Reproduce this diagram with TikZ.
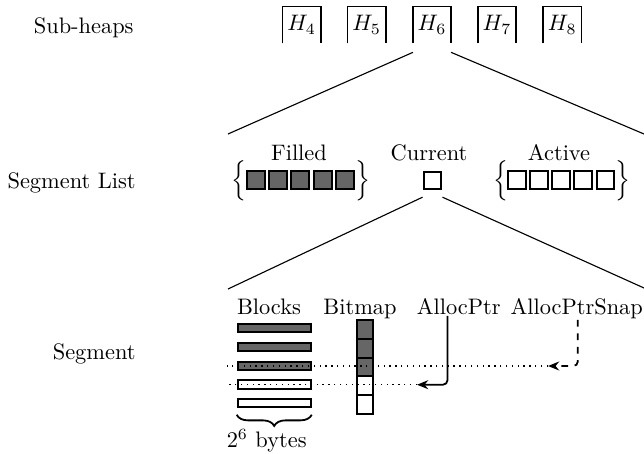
\documentclass[tikz,border=0pt]{standalone}
\usetikzlibrary{arrows.meta,decorations.pathreplacing,calc}
\begin{document}
\begin{tikzpicture}[x=0.4464pt,y=-0.4464pt,
  rowlabel/.style={anchor=east, inner sep=0pt},
  heap/.style={minimum width=16.6pt, minimum height=16pt, inner sep=0pt},
  heapline/.style={line width=0.7pt},
  segbox/.style={draw, line width=0.9pt, minimum size=8pt, inner sep=0pt},
  filledbox/.style={segbox, fill=black!60},
  bar/.style={draw, line width=0.9pt, minimum width=32.6pt, minimum height=3.6pt, inner sep=0pt},
  filledbar/.style={bar, fill=black!60},
  bitcell/.style={draw, line width=0.9pt, minimum width=7.4pt, minimum height=8.4pt, inner sep=0pt},
  filledcell/.style={bitcell, fill=black!60},
  lbl/.style={inner sep=0pt, anchor=base},
  brc/.style={inner sep=0pt},
  conn/.style={line width=0.5pt},
  ptr/.style={line width=0.8pt, -{Stealth[length=5pt,width=4pt]}, rounded corners=2pt},
  guide/.style={dotted, line width=0.6pt}]
\useasboundingbox (0,0) rectangle (644,453);

% row labels
\node[rowlabel] (lsub) at (134,28) {Sub-heaps};
\node[rowlabel] (lseg) at (136,183) {Segment List};
\node[rowlabel] (lsgm) at (136,354) {Segment};

% sub-heaps
\foreach \i/\x in {4/301.7,5/366.7,6/432,7/497,8/562.3}{
  \node[heap] (h\i) at (\x,25) {$H_{\i}$};
  \draw[heapline] (h\i.south west) |- (h\i.north) -| (h\i.south east);
}
\coordinate (sl-l) at (228,134);
\coordinate (sl-r) at (644,134);
\draw[conn] ([yshift=-4pt]h6.south west) -- (sl-l);
\draw[conn] ([yshift=-4pt]h6.south east) -- (sl-r);

% segment list
\node[lbl] (filled) at (299,161) {Filled};
\node[lbl] (current) at (429,161) {Current};
\node[lbl] (active) at (559,161) {Active};
\foreach \k in {0,...,4}{
  \node[filledbox] (f\k) at ({256+22.2*\k},180) {};
  \node[segbox] (a\k) at ({516.7+22.2*\k},180) {};
}
\node[brc] (fl) at (239,181) {$\Big\{$};
\node[brc] (fr) at (363,181) {$\Big\}$};
\node[brc] (al) at (500.5,181) {$\Big\{$};
\node[brc] (ar) at (622.5,181) {$\Big\}$};
\node[segbox] (cur) at (432.5,180.5) {};
\coordinate (sg-l) at (228,289);
\coordinate (sg-r) at (644,288);
\draw[conn] ([yshift=-3pt]cur.south west) -- (sg-l);
\draw[conn] ([yshift=-3pt]cur.south east) -- (sg-r);

% segment
\node[lbl] (blocks) at (269,314) {Blocks};
\node[lbl] (bitmap) at (360,314) {Bitmap};
\node[lbl] (alloc) at (458.7,314) {AllocPtr};
\node[lbl] (snap) at (576.7,314) {AllocPtrSnap};

\foreach \k/\y in {0/328.3,1/347,2/366}{
  \node[filledbar] (b\k) at (274.2,\y) {};
}
\foreach \k/\y in {3/384.5,4/403}{
  \node[bar] (b\k) at (274.2,\y) {};
}
\foreach \k/\y in {0/329.4,1/348.2,2/367}{
  \node[filledcell] (c\k) at (365,\y) {};
}
\foreach \k/\y in {3/385.8,4/404.6}{
  \node[bitcell] (c\k) at (365,\y) {};
}

\coordinate (snapend) at (548,366);
\coordinate (allocend) at (417,384.7);
\coordinate (g1) at (226.7,366);
\coordinate (g2) at (226.7,384.7);
\draw[guide] (snapend) -- (g1);
\draw[guide] (allocend) -- (g2);
\draw[ptr] ([xshift=-5pt,yshift=-0.5pt]alloc.south) |- (allocend);
\draw[ptr, dashed] ([xshift=0.5pt,yshift=-0.5pt]snap.south) |- (snapend);

\draw[decorate, decoration={brace, mirror, amplitude=5pt}, line width=0.8pt]
  ([yshift=-3pt]b4.south west) -- ([yshift=-3pt]b4.south east);
\node (bytes) at (266.7,441) {$2^6$ bytes};
\end{tikzpicture}
\end{document}
